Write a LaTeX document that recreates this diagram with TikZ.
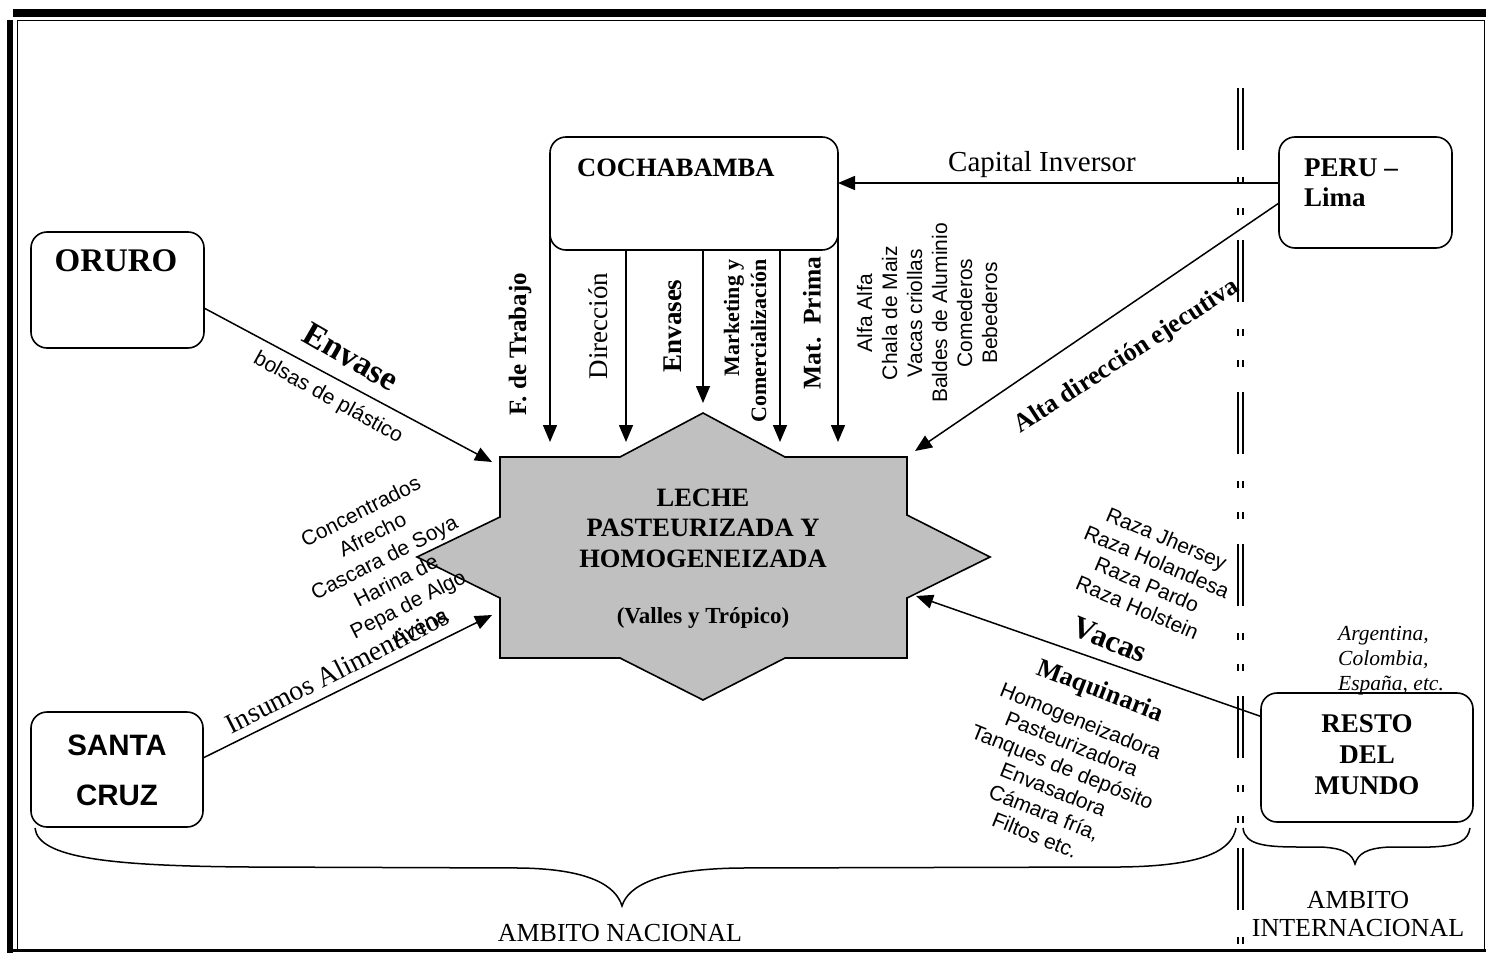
\documentclass[tikz,border=0pt]{standalone}
\usepackage{fontspec}
\setmainfont{Liberation Serif}
\newfontfamily\arialf{Liberation Sans}
\usetikzlibrary{arrows.meta}
\newcommand\fs[2]{\fontsize{#1}{#2}\selectfont}
\definecolor{stargray}{HTML}{C0C0C0}
\begin{document}
\begin{tikzpicture}[x=1pt,y=-1pt,
  box/.style={draw, line width=1.6pt, rounded corners=16pt, inner sep=0pt, outer sep=0pt},
  arr/.style={-{Triangle[length=17pt,width=14pt]}, line width=1.5pt},
  lbl/.style={inner sep=0pt, align=center},
  divline/.style={line width=1.8pt},
  bracel/.style={line width=1.5pt}]
\useasboundingbox (0,0) rectangle (1486,953);
% frame
\fill (13,9) rectangle (1486,17);
\fill (7,20) rectangle (13,953);
\draw[line width=1.5pt] (17.5,950) -- (17.5,20.5) -- (1484.5,20.5) -- (1484.5,950);
\draw[line width=2.5pt] (7,950.5) -- (1486,950.5);
% divider
\foreach \a in {88,240,392,544,696,848} {
  \draw[divline] (1238,\a) -- (1238,\a+62);
  \draw[divline] (1243,\a) -- (1243,\a+62);
}
\foreach \a in {177,208,329,360,481,512,633,664,785,816,937} {
  \draw[divline] (1238,\a) -- (1238,\a+7);
  \draw[divline] (1243,\a) -- (1243,\a+7);
}
% star
\draw[line width=1.6pt, fill=stargray] (500,457) -- (620,457) -- (703,413) -- (785,457) -- (907,457) -- (907,515) -- (990,557) -- (907,598) -- (907,658) -- (785,658) -- (703,700) -- (620,658) -- (500,658) -- (500,598) -- (417,557) -- (500,517) -- cycle;
\node[lbl, font=\bfseries\fs{26.5}{30.5}] (leche) at (703,528) {LECHE\\PASTEURIZADA Y\\HOMOGENEIZADA};
\node[lbl, font=\bfseries\fs{23}{26}] (valles) at (703,618) {(Valles y Trópico)};
% boxes
\node[box, minimum width=288pt, minimum height=113pt] (cocha) at (694,193.5) {};
\node[lbl, anchor=west, font=\bfseries\fs{26.5}{30}] (cochat) at (577,168) {COCHABAMBA};
\node[box, minimum width=173pt, minimum height=116pt] (oruro) at (117.5,290) {};
\node[lbl, font=\bfseries\fs{33}{36}] (orurot) at (116,261) {ORURO};
\node[box, minimum width=172pt, minimum height=115pt] (sc) at (117,769.5) {};
\node[lbl, font=\arialf\bfseries\fs{29.5}{50}] (sct) at (117,770) {SANTA\\CRUZ};
\node[box, minimum width=173pt, minimum height=111pt] (peru) at (1365.5,192.5) {};
\node[lbl, anchor=west, align=left, font=\bfseries\fs{27}{30}] (perut) at (1304,183) {PERU –\\Lima};
\node[box, minimum width=212pt, minimum height=129pt] (resto) at (1367,757.5) {};
\node[lbl, font=\bfseries\fs{27}{31}] (restot) at (1367,755) {RESTO\\DEL\\MUNDO};
% arrow tips
\coordinate (tipO) at (492,462);
\coordinate (tipS) at (492,615);
\coordinate (tipA) at (915,451);
\coordinate (tipR) at (916,596);
\coordinate (t1) at (550,442);
\coordinate (t2) at (626,442);
\coordinate (t3) at (703,403);
\coordinate (t4) at (780,442);
\coordinate (t5) at (838,442);
% connectors
\draw[arr] ([yshift=-18pt]oruro.east) -- (tipO);
\draw[arr] ([yshift=11.5pt]sc.east) -- (tipS);
\draw[arr] ([yshift=9.5pt]peru.west) -- ([yshift=10.5pt]cocha.east);
\draw[arr] ([yshift=-10.5pt]peru.west) -- (tipA);
\draw[arr] ([yshift=41pt]resto.west) -- (tipR);
\draw[arr] ([yshift=20pt]cocha.south west) -- (t1);
\draw[arr] (cocha.south -| t2) -- (t2);
\draw[arr] (cocha.south -| t3) -- (t3);
\draw[arr] (cocha.south -| t4) -- (t4);
\draw[arr] ([yshift=20pt]cocha.south east) -- (t5);
% vertical labels
\node[lbl, rotate=90, font=\bfseries\fs{25}{28}] (ftrab) at (520,344) {F. de Trabajo};
\node[lbl, rotate=90, font=\fs{27}{28}] (dir) at (598,326) {Dirección};
\node[lbl, rotate=90, font=\bfseries\fs{27}{28}] (env) at (673,326) {Envases};
\node[lbl, rotate=90, align=right, font=\bfseries\fs{22}{27}] (mkt) at (745,341) {Marketing y\\Comercialización};
\node[lbl, rotate=90, font=\bfseries\fs{25.5}{28}] (mat) at (812,323) {Mat.\ \ Prima};
\node[lbl, rotate=90, font=\arialf\fs{21}{25}] (alfa) at (927,313) {Alfa Alfa\\Chala de Maiz\\Vacas criollas\\Baldes de Aluminio\\Comederos\\Bebederos};
% arrow labels
\node[lbl, font=\fs{29}{30}] (capl) at (1042,165) {Capital Inversor};
\node[lbl, rotate=33, font=\bfseries\fs{26}{28}] (altal) at (1127,357) {Alta dirección ejecutiva};
\node[lbl, rotate=-30, font=\bfseries\fs{34}{36}] (envl) at (351,357) {Envase};
\node[lbl, rotate=-29, font=\arialf\fs{21}{25}] (bolsl) at (328,398) {bolsas de plástico};
\node[lbl, rotate=27, font=\arialf\fs{21}{26}] (insl) at (390,569) {Concentrados\\Afrecho\\Cascara de Soya\\Harina de\\Pepa de Algo\\Avena};
\node[lbl, rotate=27, font=\fs{28}{30}] (insuml) at (337,670) {Insumos Alimenticios};
\node[lbl, rotate=-23, font=\arialf\fs{21}{25}] (raza) at (1152,573) {Raza Jhersey\\Raza Holandesa\\Raza Pardo\\Raza Holstein};
\node[lbl, rotate=-22, font=\bfseries\fs{31}{34}] (vacl) at (1110,640) {Vacas};
\node[lbl, rotate=-21, font=\bfseries\fs{26}{28}] (maql) at (1100,692) {Maquinaria};
\node[lbl, rotate=-22, font=\arialf\fs{21}{24.6}] (maqlist) at (1058,778) {Homogeneizadora\\Pasteurizadora\\Tanques de depósito\\Envasadora\\Cámara fría,\\Filtos etc.};
\node[lbl, anchor=west, align=left, font=\itshape\fs{21.5}{25}] (pais) at (1338,661) {Argentina,\\Colombia,\\España, etc.};
% braces
\draw[bracel] (35,828) .. controls (38,858) and (110,866) .. (250,867) -- (520,868) .. controls (590,869) and (616,886) .. (622,906) .. controls (628,886) and (658,869) .. (740,868) -- (1120,867) .. controls (1210,866) and (1232,848) .. (1236,828);
\draw[bracel] (1243,828) .. controls (1245,845) and (1265,847) .. (1300,847) -- (1320,847) .. controls (1345,848) and (1352,854) .. (1355,864) .. controls (1358,854) and (1366,848) .. (1390,847) -- (1430,847) .. controls (1460,846) and (1468,840) .. (1470,828);
\node[lbl, font=\fs{26}{28}] (amn) at (620,933) {AMBITO NACIONAL};
\node[lbl, font=\fs{26}{28}] (ami) at (1358,914) {AMBITO\\INTERNACIONAL};
\end{tikzpicture}
\end{document}
